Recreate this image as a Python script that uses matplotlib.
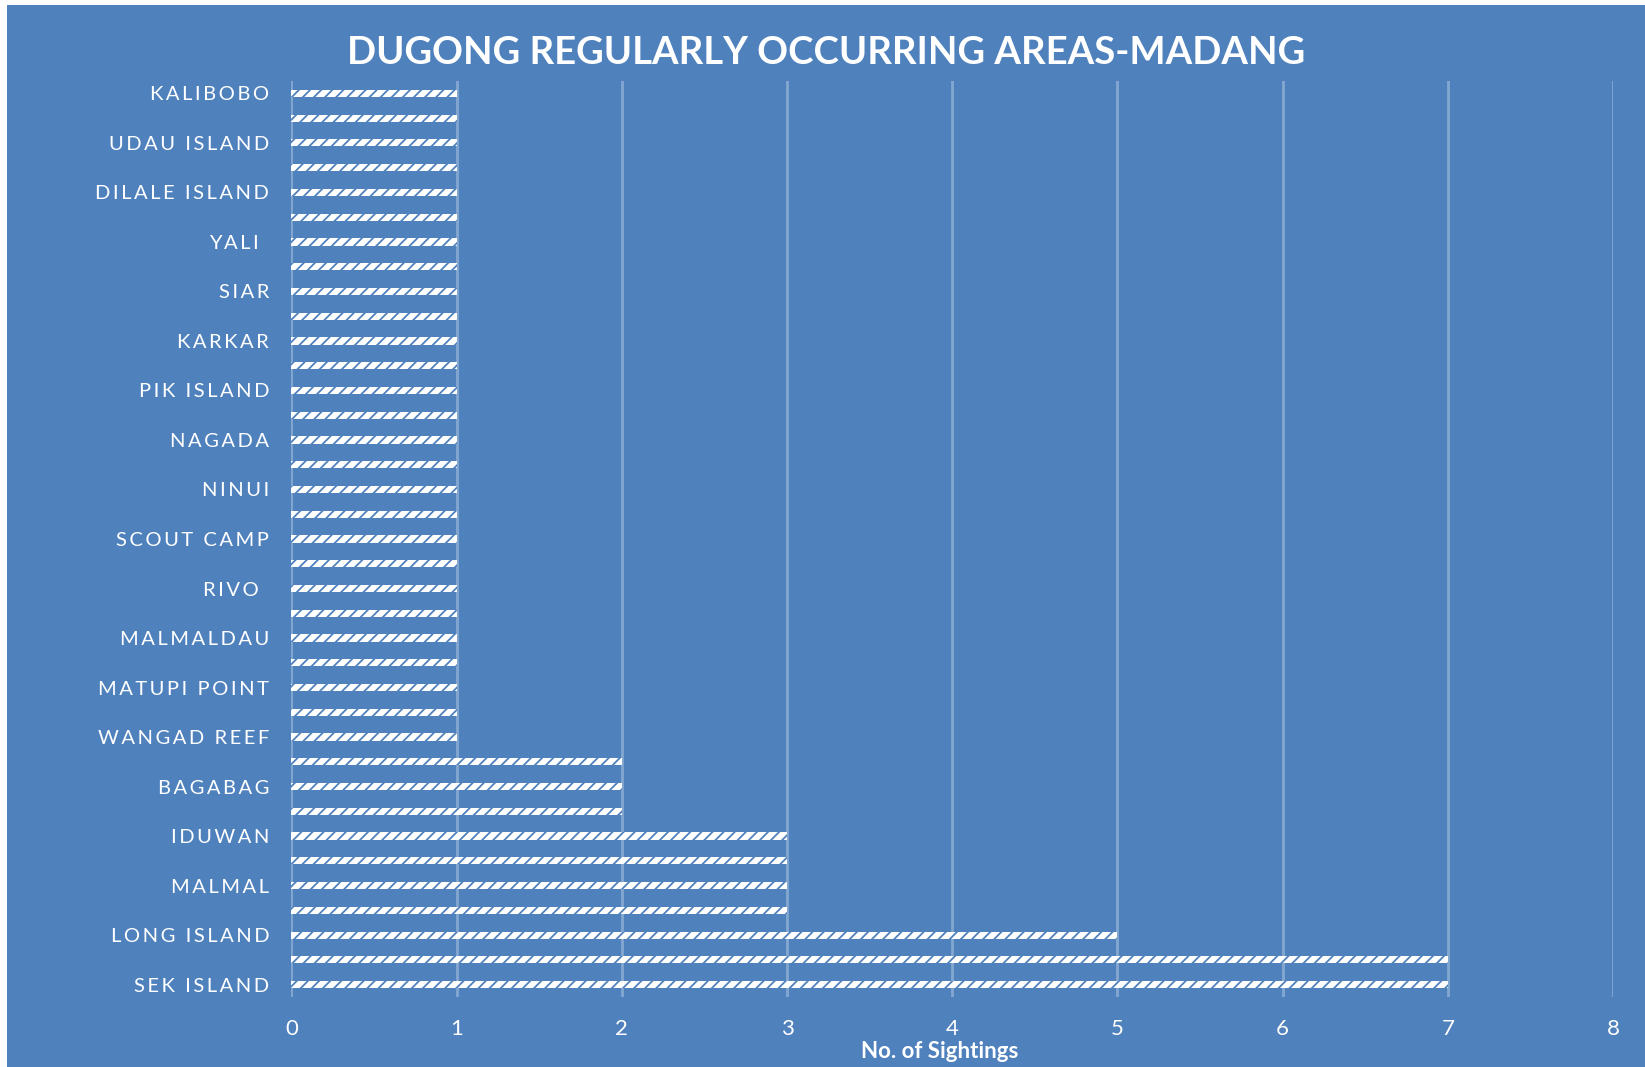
import matplotlib
matplotlib.use("Agg")
import matplotlib.pyplot as plt
from matplotlib.patches import Rectangle

# ---- data (top to bottom as shown) ----
categories = ["KALIBOBO", "", "UDAU ISLAND", "", "DILALE ISLAND", "", "YALI ", "",
              "SIAR", "", "KARKAR", "", "PIK ISLAND", "", "NAGADA", "", "NINUI", "",
              "SCOUT CAMP", "", "RIVO ", "", "MALMALDAU", "", "MATUPI POINT", "",
              "WANGAD REEF", "", "BAGABAG", "", "IDUWAN", "", "MALMAL", "",
              "LONG ISLAND", "", "SEK ISLAND"]
sightings = [1, 1, 1, 1, 1, 1, 1, 1,
             1, 1, 1, 1, 1, 1, 1, 1, 1, 1,
             1, 1, 1, 1, 1, 1, 1, 1,
             1, 2, 2, 2, 3, 3, 3, 3,
             5, 7, 7]
x_ticks = [0, 1, 2, 3, 4, 5, 6, 7, 8]
title = "DUGONG REGULARLY OCCURRING AREAS-MADANG"
x_label = "No. of Sightings"

BG = "#4F81BD"
W, H = 1645, 1067

plt.rcParams["font.family"] = ["Lato", "DejaVu Sans"]
plt.rcParams["hatch.linewidth"] = 1.3

fig = plt.figure(figsize=(W / 100, H / 100), dpi=100, facecolor="white")
fig.patches.append(Rectangle((7 / W, 0), 1 - 7 / W, 1 - 5 / H,
                             transform=fig.transFigure, facecolor=BG,
                             edgecolor="none", zorder=-10))

ax = fig.add_axes([291.4 / W, 1 - 997 / H, (1613 - 291.4) / W, (997 - 81) / H])
ax.set_facecolor("none")

THIN = "\u2009"

def spaced(s):
    return "  ".join(THIN.join(w) for w in s.split(" "))

ypos = list(range(len(categories)))
ax.barh(ypos, sightings, height=0.29, color="white", edgecolor=BG,
        linewidth=0, hatch="///", zorder=3)

ax.set_ylim(len(categories) - 0.5, -0.5)
ax.set_xlim(x_ticks[0], x_ticks[-1])
ax.set_xticks(x_ticks)
ax.set_xticklabels([str(t) for t in x_ticks], fontsize=16, color="white")
ax.set_yticks(ypos)
ax.set_yticklabels([spaced(c) for c in categories], fontsize=14.5, color="white")
ax.tick_params(axis="both", length=0)
ax.tick_params(axis="y", pad=16)
ax.tick_params(axis="x", pad=16)

ax.grid(axis="x", color="white", alpha=0.3, linewidth=2, zorder=0)
ax.grid(axis="y", visible=False)
for s in ax.spines.values():
    s.set_visible(False)

fig.text(826 / W, 1 - 53 / H, title, ha="center", va="center",
         fontsize=27.5, fontweight="bold", color="white")
fig.text(940 / W, 1 - 1052 / H, x_label, ha="center", va="center",
         fontsize=16, fontweight="bold", color="white")

fig.savefig("out.png", dpi=100, facecolor="white")
